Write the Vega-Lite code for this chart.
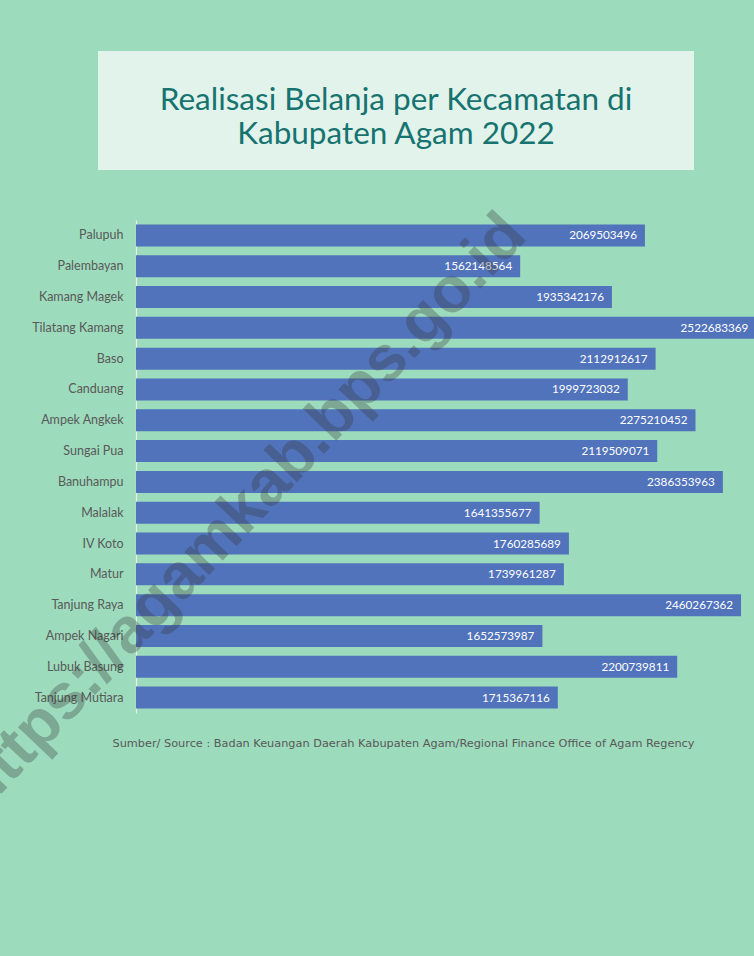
{
  "$schema": "https://vega.github.io/schema/vega-lite/v6.json",
  "autosize": {"type": "none"},
  "padding": {"left": 98, "top": 51, "right": 656, "bottom": 905},
  "background": "#9ddbbd",
  "spacing": 50,
  "bounds": "flush",
  "center": true,
  "vconcat": [
    {
      "width": 596,
      "height": 119,
      "view": {"fill": "#e2f3eb", "stroke": null},
      "data": {"values": [{"t": "Realisasi Belanja per Kecamatan di\nKabupaten Agam 2022"}]},
      "mark": {"type": "text", "font": "Lato", "fontSize": 31.5, "color": "#177370", "lineBreak": "\n", "lineHeight": 34, "align": "center", "baseline": "middle", "dy": -10},
      "encoding": {"text": {"field": "t"}}
    },
    {
      "width": 520,
      "height": 493,
      "view": {"stroke": null},
      "data": {"values": [
        {"kec": "Palupuh", "v": 2069503496},
        {"kec": "Palembayan", "v": 1562148564},
        {"kec": "Kamang Magek", "v": 1935342176},
        {"kec": "Tilatang Kamang", "v": 2522683369},
        {"kec": "Baso", "v": 2112912617},
        {"kec": "Canduang", "v": 1999723032},
        {"kec": "Ampek Angkek", "v": 2275210452},
        {"kec": "Sungai Pua", "v": 2119509071},
        {"kec": "Banuhampu", "v": 2386353963},
        {"kec": "Malalak", "v": 1641355677},
        {"kec": "IV Koto", "v": 1760285689},
        {"kec": "Matur", "v": 1739961287},
        {"kec": "Tanjung Raya", "v": 2460267362},
        {"kec": "Ampek Nagari", "v": 1652573987},
        {"kec": "Lubuk Basung", "v": 2200739811},
        {"kec": "Tanjung Mutiara", "v": 1715367116}
      ]},
      "layer": [
        {
          "mark": {"type": "bar", "color": "#5173bb"},
          "encoding": {
            "y": {"field": "kec", "type": "nominal", "sort": null,
              "scale": {"paddingInner": 0.286, "paddingOuter": 0.143},
              "axis": {"title": null, "ticks": false, "grid": false, "labelFont": "Lato", "labelFontSize": 12.5, "labelColor": "#595959", "labelPadding": 13, "domainColor": "#e6efea", "domainWidth": 1.2}},
            "x": {"field": "v", "type": "quantitative",
              "scale": {"domain": [0, 2513000000], "range": [0, 618], "nice": false, "zero": true},
              "axis": {"labels": false, "ticks": false, "domain": false, "grid": false,
                "title": "Sumber/ Source : Badan Keuangan Daerah Kabupaten Agam/Regional Finance Office of Agam Regency",
                "titleFont": "DejaVu Sans", "titleFontSize": 11.3, "titleFontWeight": "normal", "titleColor": "#595959",
                "titlePadding": 24, "titleX": 267, "titleAlign": "center"}}
          }
        },
        {
          "mark": {"type": "text", "align": "right", "baseline": "middle", "dx": -8, "color": "#ffffff", "font": "Lato", "fontSize": 11.7},
          "encoding": {
            "y": {"field": "kec", "type": "nominal", "sort": null},
            "x": {"field": "v", "type": "quantitative"},
            "text": {"field": "v", "type": "quantitative", "format": "d"}
          }
        },
        {
          "data": {"values": [{"w": "https://agamkab.bps.go.id"}]},
          "mark": {"type": "text", "font": "Liberation Sans", "fontWeight": "bold", "fontSize": 64, "angle": 313.5, "color": "#333333", "opacity": 0.3, "align": "center", "baseline": "middle", "dx": -139, "dy": -80},
          "encoding": {"text": {"field": "w"}}
        }
      ]
    }
  ]
}
